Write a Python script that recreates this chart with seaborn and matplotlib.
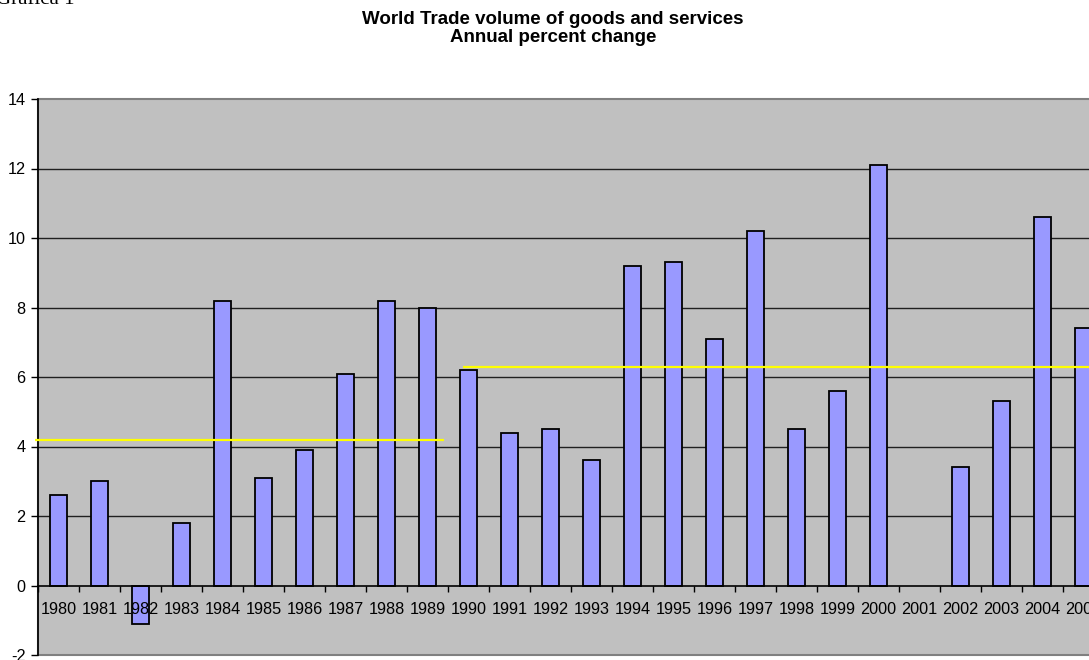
import numpy as np
import pandas as pd
import matplotlib
matplotlib.use("Agg")
import matplotlib.pyplot as plt
from matplotlib.patches import Rectangle
from matplotlib.ticker import FixedLocator
import seaborn as sns

years = [str(y) for y in range(1980, 2006)]
values = [2.6, 3.0, -1.1, 1.8, 8.2, 3.1, 3.9, 6.1, 8.2, 8.0,
          6.2, 4.4, 4.5, 3.6, 9.2, 9.3, 7.1, 10.2, 4.5, 5.6,
          12.1, np.nan, 3.4, 5.3, 10.6, 7.4]
period_avg = [4.2, 6.3]
period_start = ["1980", "1990"]
period_end = ["1989", "2005"]
y_ticks = [-2, 0, 2, 4, 6, 8, 10, 12, 14]

df = pd.DataFrame({"year": years, "value": values})

sns.set_theme(style="white")
plt.rcParams["font.family"] = ["Liberation Sans", "DejaVu Sans"]
plt.rcParams["text.color"] = "black"

fig = plt.figure(figsize=(10.89, 6.6), dpi=100)
W, H = 1089, 660
left, right, top, bottom = 38, 1104, 99, 655
ax = fig.add_axes([left / W, (H - bottom) / H, (right - left) / W, (bottom - top) / H])
ax.set_facecolor("#C0C0C0")

sns.barplot(data=df, x="year", y="value", ax=ax, color="#9999FF",
            saturation=1, width=0.4, edgecolor="black", linewidth=1.3,
            zorder=2)

ax.set_xlim(-0.5, len(years) - 0.5)
ax.set_ylim(-2, 14)
ax.set_xlabel("")
ax.set_ylabel("")
ax.set_axisbelow(False)

# gridlines
for v in y_ticks:
    if v not in (-2, 0, 14):
        ax.axhline(v, color="#202020", lw=1.0, zorder=1)

# period averages (yellow)
idx = {y: i for i, y in enumerate(years)}
xmins = [idx[period_start[0]] - 0.57, idx[period_start[1]] - 0.13]
xmaxs = [idx[period_end[0]] + 0.4, idx[period_end[1]] + 0.6]
ax.hlines(period_avg, xmins, xmaxs, colors="#FFFF00", lw=1.6, zorder=3,
          clip_on=False)

# spines
for s in ["top", "right", "bottom", "left"]:
    ax.spines[s].set_visible(False)
ax.spines["left"].set_visible(True)
ax.spines["left"].set_color("black")
ax.spines["left"].set_linewidth(1.2)
ax.spines["bottom"].set_visible(True)
ax.spines["bottom"].set_position(("data", 0))
ax.spines["bottom"].set_color("black")
ax.spines["bottom"].set_linewidth(1.2)
ax.add_patch(Rectangle((0, 0), 1, 1, transform=ax.transAxes, fill=False,
                       edgecolor="#808080", lw=1.5, clip_on=False, zorder=0.5))

# ticks
ax.set_yticks(y_ticks)
ax.set_yticklabels([str(v) for v in y_ticks])
ax.tick_params(axis="y", direction="out", length=5, width=1, color="black",
               labelsize=11.7, pad=4, left=True, labelcolor="black")

ax.set_xticks(range(len(years)))
ax.set_xticklabels(years)
ax.xaxis.set_minor_locator(FixedLocator(np.arange(-0.5, len(years), 1.0)))
ax.tick_params(axis="x", which="major", length=0, labelsize=11.7, pad=12,
               labelcolor="black", bottom=True)
ax.tick_params(axis="x", which="minor", length=4, width=1, color="black",
               direction="out", bottom=True)

fig.text(553 / W, 1 - 19 / H, "World Trade volume of goods and services",
         ha="center", va="center", fontsize=13.5, fontweight="bold", color="black")
fig.text(553 / W, 1 - 38 / H, "Annual percent change",
         ha="center", va="center", fontsize=13.5, fontweight="bold", color="black")
fig.text(-0.004, 1 - 4 / H, "Gráfica 1", ha="left", va="baseline",
         fontsize=15, color="black", family=["Liberation Serif", "DejaVu Serif"])

fig.savefig("out.png", dpi=100)
